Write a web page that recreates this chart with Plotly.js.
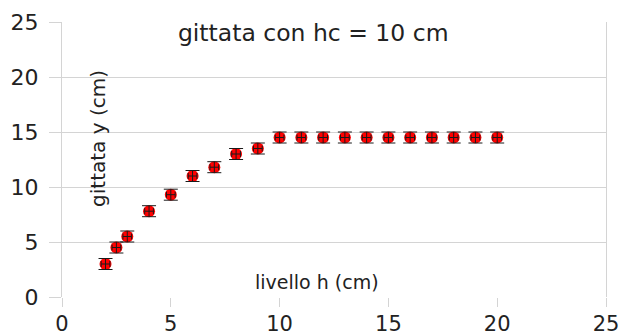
<!DOCTYPE html>
<html>
<head>
<meta charset="utf-8">
<script src="https://cdn.plot.ly/plotly-3.0.1.min.js"></script>
<style>
  html, body { margin: 0; padding: 0; background: #fff; }
  #chart { width: 629px; height: 336px; }
</style>
</head>
<body>
<div id="chart"></div>
<script>
// water level h (cm) and measured range y (cm), hc = 10 cm
const livello = [2, 2.5, 3, 4, 5, 6, 7, 8, 9, 10, 11, 12, 13, 14, 15, 16, 17, 18, 19, 20];
const gittata = [3.0, 4.5, 5.5, 7.8, 9.3, 11.0, 11.8, 13.0, 13.5, 14.5, 14.5, 14.5, 14.5, 14.5, 14.5, 14.5, 14.5, 14.5, 14.5, 14.5];
// measurement uncertainties (cm)
const errH = 0.2;
const errY = 0.5;
const tickVals = [0, 5, 10, 15, 20, 25];

const gridCol = '#d4d4d4';
const font = 'DejaVu Sans, Liberation Sans, Arial, sans-serif';

// red dots
const dots = {
  x: livello,
  y: gittata,
  type: 'scatter',
  mode: 'markers',
  marker: { color: '#ff0000', size: 12, line: { width: 0 } },
  showlegend: false,
  hoverinfo: 'x+y'
};

// error bars drawn over the dots
const bars = {
  x: livello,
  y: gittata,
  type: 'scatter',
  mode: 'markers',
  marker: { color: 'rgba(0,0,0,0)', size: 1 },
  error_y: { type: 'constant', value: errY, color: '#1a1a1a', thickness: 1, width: 7 },
  error_x: { type: 'constant', value: errH, color: '#1a1a1a', thickness: 1, width: 3 },
  showlegend: false,
  hoverinfo: 'skip'
};

const layout = {
  width: 629,
  height: 336,
  margin: { l: 62, r: 23, t: 22, b: 39 },
  paper_bgcolor: '#fff',
  plot_bgcolor: '#fff',
  font: { family: font, color: '#222' },
  title: {
    text: 'gittata con hc = 10 cm',
    font: { family: font, size: 23.5, color: '#222' },
    x: 0.498, xanchor: 'center',
    y: 0.902, yanchor: 'middle'
  },
  xaxis: {
    range: [0, 25],
    tickvals: tickVals,
    showgrid: false,
    zeroline: false,
    showline: false,
    ticks: 'outside',
    ticklen: 9,
    tickcolor: gridCol,
    ticklabelstandoff: -1,
    tickfont: { family: font, size: 21, color: '#222' },
    fixedrange: true
  },
  yaxis: {
    range: [0, 25],
    tickvals: tickVals,
    showgrid: true,
    gridcolor: gridCol,
    gridwidth: 1,
    zeroline: false,
    showline: true,
    mirror: true,
    linecolor: gridCol,
    linewidth: 1,
    ticks: 'outside',
    ticklen: 12,
    tickcolor: gridCol,
    ticklabelstandoff: 6,
    tickfont: { family: font, size: 22, color: '#222' },
    fixedrange: true
  },
  annotations: [
    {
      text: 'gittata y (cm)',
      xref: 'paper', yref: 'paper',
      x: 0.066, y: 0.578,
      xanchor: 'center', yanchor: 'middle',
      textangle: -90,
      showarrow: false,
      font: { family: font, size: 20, color: '#222' }
    },
    {
      text: 'livello h (cm)',
      xref: 'paper', yref: 'paper',
      x: 0.468, y: 0.055,
      xanchor: 'center', yanchor: 'middle',
      showarrow: false,
      font: { family: font, size: 19, color: '#222' }
    }
  ]
};

Plotly.newPlot('chart', [dots, bars], layout, { displayModeBar: false, staticPlot: true });
</script>
</body>
</html>
